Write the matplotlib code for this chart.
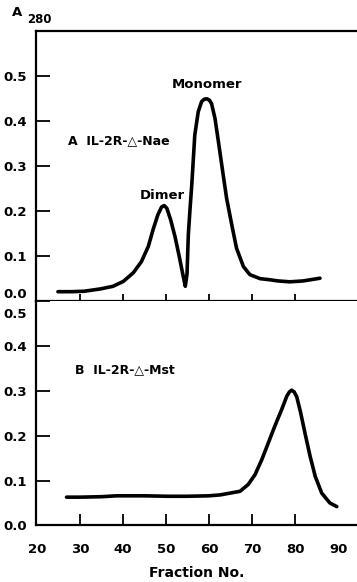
import matplotlib
matplotlib.use("Agg")
import matplotlib.pyplot as plt
import matplotlib.transforms as mtransforms

plt.rcParams['font.family'] = ['DejaVu Sans']
plt.rcParams['font.weight'] = 'bold'

# panel A: IL-2R-delta-Nae (fraction no., A280)
frac_a = [24.9, 28, 31, 34.65, 37.7, 40.1, 42.4, 44.3, 45.9, 47.0, 48.1,
          49.0, 49.6, 50.2, 51.1, 52.1, 53.1, 54.0, 54.5, 54.9, 55.2, 55.6,
          56.0, 56.7, 57.5, 58.3, 58.9, 59.5, 60.1, 60.6, 61.4, 62.2, 63.2,
          64.1, 65.3, 66.4, 68.0, 69.5, 71.9, 73.8, 76.0, 78.8, 81.9, 85.8]
a280_a = [0.020, 0.020, 0.021, 0.026, 0.032, 0.043, 0.062, 0.087, 0.121,
          0.158, 0.191, 0.209, 0.212, 0.206, 0.180, 0.143, 0.098, 0.055,
          0.032, 0.060, 0.147, 0.205, 0.258, 0.369, 0.421, 0.444, 0.449,
          0.450, 0.447, 0.439, 0.406, 0.354, 0.287, 0.228, 0.169, 0.117,
          0.076, 0.058, 0.049, 0.047, 0.044, 0.042, 0.044, 0.050]

# panel B: IL-2R-delta-Mst
frac_b = [26.9, 30, 35, 38.5, 45, 50.2, 55, 60, 62.6, 64.9, 67.2, 69.1, 70.7,
          72.3, 73.8, 75.3, 76.9, 78.1, 78.7, 79.2, 79.8, 80.4, 81.3, 82.3,
          83.5, 84.7, 86.2, 88.1, 89.7]
a280_b = [0.063, 0.063, 0.064, 0.066, 0.066, 0.065, 0.065, 0.066, 0.068,
          0.072, 0.076, 0.091, 0.113, 0.147, 0.184, 0.221, 0.258, 0.288,
          0.297, 0.301, 0.297, 0.286, 0.251, 0.206, 0.154, 0.109, 0.072,
          0.050, 0.042]

xticks = [20, 30, 40, 50, 60, 70, 80, 90]
yticks = [0.0, 0.1, 0.2, 0.3, 0.4, 0.5]
ytick_labels = ['0.0', '0.1', '0.2', '0.3', '0.4', '0.5']

fig = plt.figure(figsize=(3.57, 5.82), dpi=100)
left = 36 / 357
ax_a = fig.add_axes([left, 0.4834, 1 - left, 0.4625])
ax_b = fig.add_axes([left, 0.0971, 1 - left, 0.3863])

for ax in (ax_a, ax_b):
    ax.set_xlim(19.8, 94.4)
    ax.spines['right'].set_visible(False)
    for s in ax.spines.values():
        s.set_linewidth(1.6)
    ax.set_yticks(yticks)
    ax.set_yticklabels(ytick_labels)
    ax.tick_params(axis='y', direction='in', length=10, width=1.3, pad=6.5,
                   labelsize=9.5)

ax_a.plot(frac_a, a280_a, color='black', lw=2.6, solid_capstyle='round',
          solid_joinstyle='round')
ax_a.set_ylim(0, 0.6)
ax_a.set_xticks(xticks[1:-1])
ax_a.tick_params(axis='x', direction='inout', length=10, width=1.3,
                 labelbottom=False)

ax_b.plot(frac_b, a280_b, color='black', lw=2.6, solid_capstyle='round',
          solid_joinstyle='round')
ax_b.set_ylim(0, 0.5)
ax_b.spines['top'].set_visible(False)
ax_b.set_xticks(xticks)
ax_b.tick_params(axis='x', direction='in', length=8, width=1.3, pad=12.5,
                 labelsize=9.5)
ticks_b = ax_b.xaxis.get_major_ticks()
ticks_b[0].tick1line.set_visible(False)
ticks_b[-1].tick1line.set_visible(False)
ax_b.set_xlabel('Fraction No.', fontsize=10, fontweight='bold', labelpad=7)

ax_a.text(59.5, 0.482, 'Monomer', ha='center', va='center', fontsize=9.5)
ax_a.text(49.2, 0.235, 'Dimer', ha='center', va='center', fontsize=9.5)
ax_a.text(27.2, 0.357, 'A  IL-2R-\u25b3-Nae', ha='left', va='center',
          fontsize=9)
ax_b.text(28.9, 0.346, 'B  IL-2R-\u25b3-Mst', ha='left', va='center',
          fontsize=9)

fig.text(12 / 357, 1 - 13 / 582, 'A', ha='left', va='center', fontsize=9.5)
fig.text(27 / 357, 1 - 19.5 / 582, '280', ha='left', va='center', fontsize=8.5)

# nudge the crowded labels at the panel join
up = mtransforms.ScaledTranslation(0, 0.08, fig.dpi_scale_trans)
down = mtransforms.ScaledTranslation(0, -0.12, fig.dpi_scale_trans)
lab_a = ax_a.yaxis.get_major_ticks()[0].label1
lab_a.set_transform(lab_a.get_transform() + up)
lab_b = ax_b.yaxis.get_major_ticks()[-1].label1
lab_b.set_transform(lab_b.get_transform() + down)

fig.savefig('out.png', dpi=100)
